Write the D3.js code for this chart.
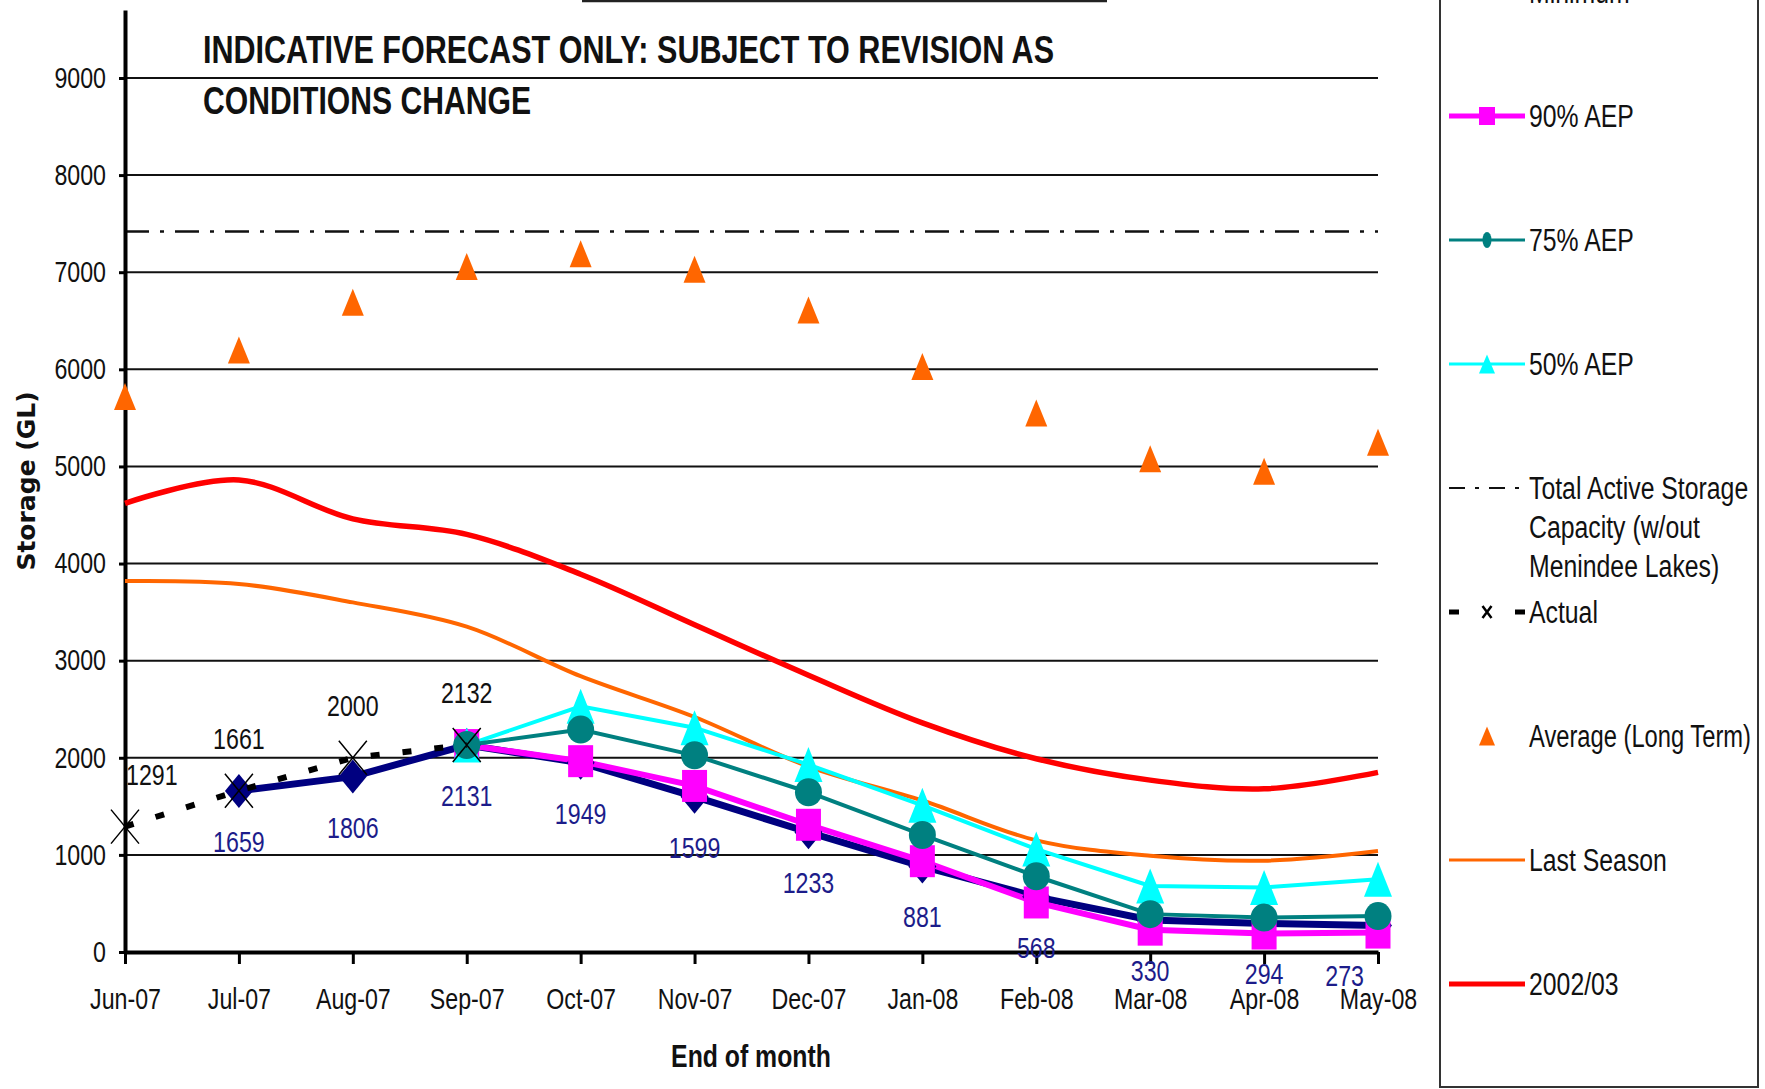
<!DOCTYPE html>
<html>
<head>
<meta charset="utf-8">
<script src="https://cdn.jsdelivr.net/npm/d3@7"></script>
<style>
  body { margin: 0; background: #fff; }
  text { font-family: "Liberation Sans Narrow", "Arial Narrow", "Liberation Sans", Arial, sans-serif; }
</style>
</head>
<body>
<svg id="chart" width="1765" height="1089"></svg>
<script>
// ---- data ----
const months = ['Jun-07', 'Jul-07', 'Aug-07', 'Sep-07', 'Oct-07', 'Nov-07', 'Dec-07', 'Jan-08', 'Feb-08', 'Mar-08', 'Apr-08', 'May-08'];
const yTicks = [0, 1000, 2000, 3000, 4000, 5000, 6000, 7000, 8000, 9000];

const actual = [1291, 1661, 2000, 2132, null, null, null, null, null, null, null, null];
const minimum = [null, 1659, 1806, 2131, 1949, 1599, 1233, 881, 568, 330, 294, 273];
const aep90 = [null, null, null, 2131, 1965, 1710, 1310, 935, 510, 230, 190, 200];
const aep75 = [null, null, null, 2131, 2290, 2025, 1645, 1205, 780, 390, 355, 370];
const aep50 = [null, null, null, 2131, 2530, 2310, 1930, 1510, 1060, 680, 665, 750];
const longTermAverage = [5720, 6200, 6690, 7060, 7190, 7030, 6610, 6030, 5550, 5080, 4950, 5250];
const lastSeason = [3820, 3790, 3600, 3350, 2840, 2420, 1910, 1560, 1150, 990, 940, 1040];
const season0203 = [4620, 4860, 4460, 4300, 3890, 3370, 2850, 2360, 1990, 1770, 1680, 1850];
const totalCapacity = 7420;

const titleLines = ['INDICATIVE FORECAST ONLY: SUBJECT TO REVISION AS', 'CONDITIONS CHANGE'];

// ---- layout ----
const svg = d3.select('#chart');
const plotLeft = 125, plotRight = 1378, plotBottom = 952, plotTop = 10;
const narrow = 0.8; // the original font is a condensed one

const x = d3.scalePoint().domain(months).range([plotLeft, plotRight]);
const y = d3.scaleLinear().domain([0, 9700]).range([plotBottom, plotTop]);

const pts = (arr) => arr.map((v, i) => ({ m: months[i], v: v })).filter(d => d.v !== null);

// squeeze text horizontally to imitate the narrow font
function condense(sel, maxWidth) {
  sel.each(function () {
    let w = this.getComputedTextLength() * narrow;
    if (maxWidth) w = Math.min(w, maxWidth);
    d3.select(this).attr('textLength', w).attr('lengthAdjust', 'spacingAndGlyphs');
  });
}

const shape = {
  diamond: (w, h) => `M0,${-h / 2}L${w / 2},0L0,${h / 2}L${-w / 2},0Z`,
  square: (w, h) => `M${-w / 2},${-h / 2}h${w}v${h}h${-w}Z`,
  triangle: (w, h) => `M0,${-h / 2}L${w / 2},${h / 2}L${-w / 2},${h / 2}Z`,
  cross: (w, h) => `M${-w / 2},${-h / 2}L${w / 2},${h / 2}M${w / 2},${-h / 2}L${-w / 2},${h / 2}`
};

// gridlines
svg.append('g')
  .selectAll('line')
  .data(yTicks.filter(t => t > 0))
  .enter()
  .append('line')
  .attr('x1', plotLeft).attr('x2', plotRight)
  .attr('y1', d => y(d)).attr('y2', d => y(d))
  .attr('stroke', '#111').attr('stroke-width', 2);

// capacity line
svg.append('line')
  .attr('x1', plotLeft).attr('x2', plotRight)
  .attr('y1', y(totalCapacity)).attr('y2', y(totalCapacity))
  .attr('stroke', '#111').attr('stroke-width', 2.5)
  .attr('stroke-dasharray', '24,11,4,11');

// axes
const yAxis = svg.append('g')
  .attr('transform', `translate(${plotLeft},0)`)
  .call(d3.axisLeft(y).tickValues(yTicks).tickFormat(d3.format('d'))
    .tickSize(6).tickSizeOuter(0).tickPadding(13));
const xAxis = svg.append('g')
  .attr('transform', `translate(0,${plotBottom})`)
  .call(d3.axisBottom(x).tickSize(12).tickSizeOuter(0).tickPadding(24));
[yAxis, xAxis].forEach(a => {
  a.select('.domain').attr('stroke', '#000').attr('stroke-width', 4);
  a.selectAll('.tick line').attr('stroke', '#000').attr('stroke-width', 3);
  a.selectAll('.tick text').attr('font-size', 29).attr('fill', '#111')
    .style('font-family', '"Liberation Sans", Arial, sans-serif')
    .call(condense);
});

// series lines
const smooth = d3.line().x(d => x(d.m)).y(d => y(d.v)).curve(d3.curveCatmullRom.alpha(0.5));
const straight = d3.line().x(d => x(d.m)).y(d => y(d.v));

svg.append('path').datum(pts(season0203)).attr('d', smooth)
  .attr('fill', 'none').attr('stroke', '#ff0000').attr('stroke-width', 5.5);
svg.append('path').datum(pts(lastSeason)).attr('d', smooth)
  .attr('fill', 'none').attr('stroke', '#ff6600').attr('stroke-width', 4);

const series = [
  { data: minimum, color: '#000080', width: 7, marker: 'diamond', w: 28, h: 34 },
  { data: aep90, color: '#ff00ff', width: 6, marker: 'square', w: 25, h: 32 },
  { data: aep50, color: '#00ffff', width: 4, marker: 'triangle', w: 28, h: 35 },
  { data: aep75, color: '#008080', width: 4, marker: 'circle', w: 27, h: 28 }
];
series.forEach(s => {
  svg.append('path').datum(pts(s.data)).attr('d', straight)
    .attr('fill', 'none').attr('stroke', s.color).attr('stroke-width', s.width);
});
series.forEach(s => {
  const g = svg.append('g');
  if (s.marker === 'circle') {
    g.selectAll('ellipse').data(pts(s.data)).enter().append('ellipse')
      .attr('cx', d => x(d.m)).attr('cy', d => y(d.v))
      .attr('rx', s.w / 2).attr('ry', s.h / 2).attr('fill', s.color);
  } else {
    g.selectAll('path').data(pts(s.data)).enter().append('path')
      .attr('transform', d => `translate(${x(d.m)},${y(d.v)})`)
      .attr('d', shape[s.marker](s.w, s.h)).attr('fill', s.color);
  }
});

// long term average triangles
svg.append('g').selectAll('path').data(pts(longTermAverage)).enter().append('path')
  .attr('transform', d => `translate(${x(d.m)},${y(d.v)})`)
  .attr('d', shape.triangle(22, 27)).attr('fill', '#ff6600');

// actual
svg.append('path').datum(pts(actual)).attr('d', straight)
  .attr('fill', 'none').attr('stroke', '#000').attr('stroke-width', 6)
  .attr('stroke-dasharray', '9,23');
svg.append('g').selectAll('path').data(pts(actual)).enter().append('path')
  .attr('transform', d => `translate(${x(d.m)},${y(d.v)})`)
  .attr('d', shape.cross(28, 34)).attr('fill', 'none')
  .attr('stroke', '#000').attr('stroke-width', 1.5);

// data labels
function addLabels(arr, color, offset) {
  svg.append('g').selectAll('text').data(pts(arr)).enter().append('text')
    .attr('x', d => x(d.m)).attr('y', d => y(d.v) + offset)
    .attr('text-anchor', 'middle').attr('font-size', 29).attr('fill', color)
    .text(d => d.v)
    .call(condense)
    .each(function (d) {
      const half = this.getComputedTextLength() / 2;
      const cx = Math.max(plotLeft + half + 1, Math.min(plotRight - 14 - half, x(d.m)));
      d3.select(this).attr('x', cx);
    });
}
addLabels(actual, '#111', -42);
addLabels(minimum, '#1c1c8a', 61);

// title
svg.append('g').selectAll('text').data(titleLines).enter().append('text')
  .attr('x', 203).attr('y', (d, i) => 63 + i * 51)
  .attr('font-size', 39).attr('font-weight', 'bold').attr('fill', '#111')
  .attr('textLength', (d, i) => i === 0 ? 851 : 328)
  .attr('lengthAdjust', 'spacingAndGlyphs')
  .text(d => d);

// axis titles
svg.append('text')
  .attr('transform', 'translate(35,481) rotate(-90)')
  .attr('text-anchor', 'middle').attr('font-size', 25).attr('font-weight', 'bold')
  .style('font-family', '"DejaVu Sans", sans-serif').attr('fill', '#111')
  .text('Storage (GL)');
svg.append('text')
  .attr('x', 751).attr('y', 1067).attr('text-anchor', 'middle')
  .attr('font-size', 31).attr('font-weight', 'bold').attr('fill', '#111')
  .text('End of month')
  .call(condense);

// box edges cut by the crop
svg.append('line').attr('x1', 582).attr('x2', 1107).attr('y1', 1).attr('y2', 1)
  .attr('stroke', '#222').attr('stroke-width', 2.5);
svg.append('rect').attr('x', 1440).attr('y', -20).attr('width', 318).attr('height', 1107)
  .attr('fill', 'none').attr('stroke', '#333').attr('stroke-width', 2);

// legend
const legendItems = [
  { label: ['Minimum'], color: '#000080', width: 5, marker: 'diamond', mw: 10, mh: 16 },
  { label: ['90% AEP'], color: '#ff00ff', width: 5, marker: 'square', mw: 16, mh: 18 },
  { label: ['75% AEP'], color: '#008080', width: 3, marker: 'circle', mw: 9, mh: 16 },
  { label: ['50% AEP'], color: '#00ffff', width: 3, marker: 'triangle', mw: 16, mh: 19 },
  { label: ['Total Active Storage', 'Capacity (w/out', 'Menindee Lakes)'], color: '#111', width: 2, dash: '16,10,4,10' },
  { label: ['Actual'], color: '#000', width: 5, dash: '10,56', marker: 'cross', mw: 9, mh: 12 },
  { label: ['Average (Long Term)'], color: '#ff6600', width: 0, marker: 'triangle', mw: 16, mh: 19 },
  { label: ['Last Season'], color: '#ff6600', width: 3 },
  { label: ['2002/03'], color: '#ff0000', width: 5 }
];
const lg = svg.append('g').selectAll('g').data(legendItems).enter().append('g')
  .attr('transform', (d, i) => `translate(1449,${-8 + i * 124})`);
lg.filter(d => d.width > 0).append('line')
  .attr('x1', 0).attr('x2', 76).attr('y1', 0).attr('y2', 0)
  .attr('stroke', d => d.color).attr('stroke-width', d => d.width)
  .attr('stroke-dasharray', d => d.dash || null);
lg.filter(d => d.marker && d.marker !== 'circle').append('path')
  .attr('transform', 'translate(38,0)')
  .attr('d', d => shape[d.marker](d.mw, d.mh))
  .attr('fill', d => d.marker === 'cross' ? 'none' : d.color)
  .attr('stroke', d => d.marker === 'cross' ? '#000' : null)
  .attr('stroke-width', 2.5);
lg.filter(d => d.marker === 'circle').append('ellipse')
  .attr('cx', 38).attr('cy', 0).attr('rx', d => d.mw / 2).attr('ry', d => d.mh / 2)
  .attr('fill', d => d.color);
lg.each(function (d) {
  d3.select(this).selectAll('text').data(d.label).enter().append('text')
    .attr('x', 80).attr('y', (t, j) => j * 39)
    .attr('dy', '0.35em').attr('font-size', 31).attr('fill', '#111')
    .text(t => t)
    .call(condense, 222);
});
</script>
</body>
</html>
